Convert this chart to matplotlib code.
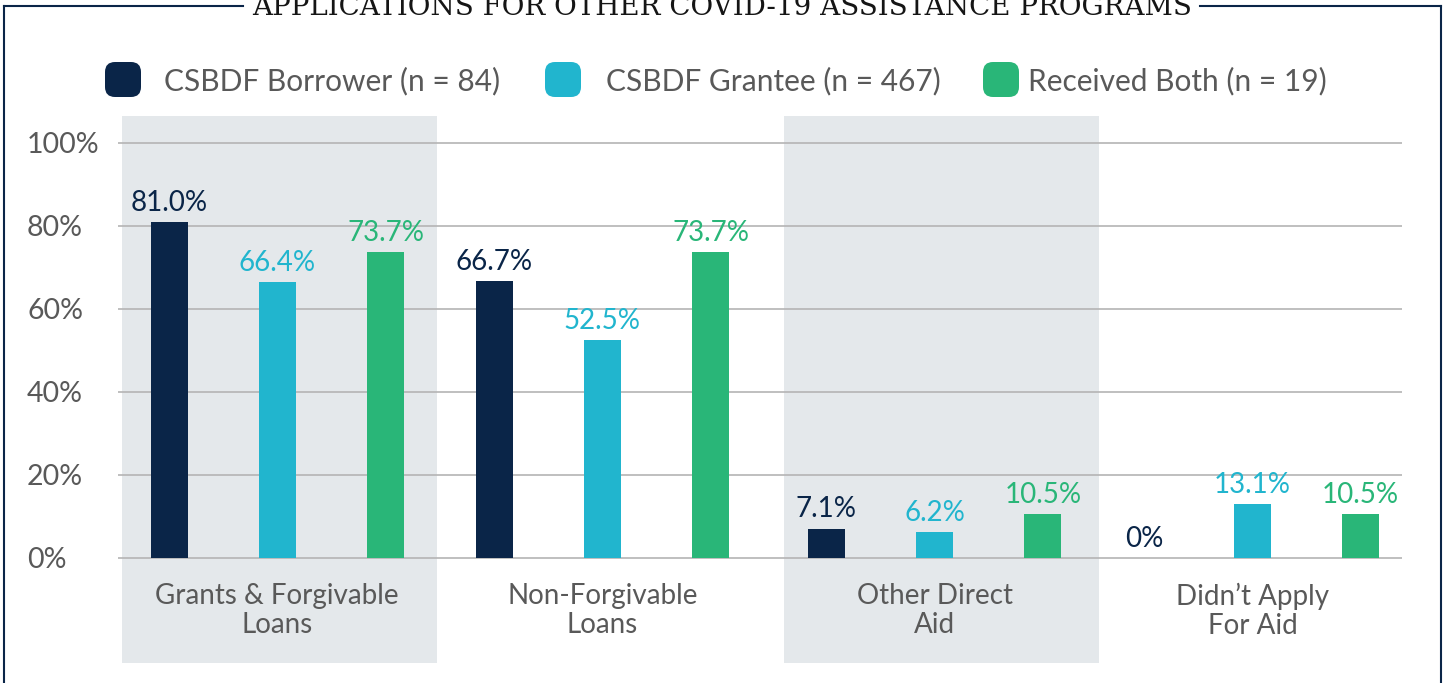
import matplotlib.pyplot as plt
from matplotlib.patches import FancyBboxPatch
import numpy as np

plt.rcParams['font.family'] = ['Lato', 'DejaVu Sans']

title = "APPLICATIONS FOR OTHER COVID-19 ASSISTANCE PROGRAMS"
categories = ["Grants & Forgivable\nLoans", "Non-Forgivable\nLoans",
              "Other Direct\nAid", "Didn\u2019t Apply\nFor Aid"]
series = ["CSBDF Borrower (n = 84)", "CSBDF Grantee (n = 467)", "Received Both (n = 19)"]
borrower = [81.0, 66.7, 7.1, 0.0]
grantee = [66.4, 52.5, 6.2, 13.1]
both = [73.7, 73.7, 10.5, 10.5]
yticks = [0, 20, 40, 60, 80, 100]

NAVY = '#0a2548'
CYAN = '#21b5ce'
GREEN = '#29b678'
BAND = '#e4e8eb'
GRAY = '#595959'
colors = [NAVY, CYAN, GREEN]

W, H = 1450, 683
fig = plt.figure(figsize=(W / 100, H / 100), dpi=100)

# main plot area (pixel layout of reference)
ax = fig.add_axes([118 / W, 1 - 663 / H, (1402 - 118) / W, (663 - 116) / H])
ax.set_xlim(-0.49, 3.46)
ax.set_ylim(-25.3, 106.5)

# group centres (third group sits a touch to the right in the original)
x = np.array([0, 1, 2.022, 3])

# shaded bands behind groups 1 and 3
for lo, hi in [(-0.478, 0.49), (1.559, 2.528)]:
    ax.axvspan(lo, hi, color=BAND, lw=0, zorder=0)

offsets = [-0.333, 0.0, 0.333]
for vals, color, off in zip([borrower, grantee, both], colors, offsets):
    ax.bar(x + off, vals, width=0.114, color=color, zorder=2)
    for xi, v in zip(x, vals):
        lbl = f"{v:.1f}%" if v else "0%"
        ax.annotate(lbl, (xi + off, v), xytext=(0, 8), textcoords='offset points',
                    ha='center', va='baseline', color=color, fontsize=20)

for xi, cat in zip(x, categories):
    ax.text(xi, -6.0, cat, ha='center', va='top', fontsize=20, color=GRAY,
            linespacing=1.15)

ax.set_yticks(yticks)
ax.set_yticklabels([f"{t}%" for t in yticks])
ax.set_xticks([])
ax.yaxis.grid(True, color='#b4b4b4', lw=1.2)
ax.set_axisbelow(True)
ax.tick_params(axis='y', length=0, pad=65.5, labelsize=20.5, labelcolor=GRAY)
for lab in ax.get_yticklabels():
    lab.set_ha('left')
for s in ax.spines.values():
    s.set_visible(False)

# overlay in pixel coords: frame, title, legend
ov = fig.add_axes([0, 0, 1, 1], zorder=3)
ov.set_xlim(0, W)
ov.set_ylim(H, 0)
ov.axis('off')

lw = 1.5
ov.plot([4, 4], [6, H + 5], color=NAVY, lw=lw)
ov.plot([1441, 1441], [6, H + 5], color=NAVY, lw=lw)
ov.plot([4, 243], [6, 6], color=NAVY, lw=lw, solid_capstyle='projecting')
ov.plot([1200, 1441], [6, 6], color=NAVY, lw=lw, solid_capstyle='projecting')
ov.text(722, 15, title, ha='center', va='baseline', fontsize=20,
        family='DejaVu Serif', color='#151515')

marker_x = [105, 545, 983]
text_x = [164, 606, 1028]
for name, color, mx, tx in zip(series, colors, marker_x, text_x):
    ov.add_patch(FancyBboxPatch((mx, 62), 36, 35, boxstyle="round,pad=0,rounding_size=10",
                                fc=color, ec='none'))
    ov.text(tx, 90, name, ha='left', va='baseline', fontsize=21.5, color=GRAY)

fig.savefig('out.png', dpi=100, facecolor='white')
